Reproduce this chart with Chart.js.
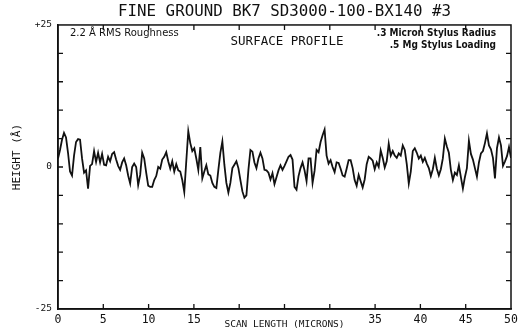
<!DOCTYPE html>
<html><head><meta charset="utf-8">
<script src="https://cdn.jsdelivr.net/npm/chart.js@4.4.1/dist/chart.umd.min.js"></script>
<style>html,body{margin:0;padding:0;background:#fff}#wrap{width:526px;height:334px}</style>
</head><body><div id="wrap"><canvas id="c" width="526" height="334"></canvas></div>
<script>
// ---- data ----
const chartTitle = 'FINE GROUND BK7 SD3000-100-BX140 #3';
const xAxisTitle = 'SCAN LENGTH (MICRONS)';
const yAxisTitle = 'HEIGHT (Å)';
const xTickLabels = [0, 5, 10, 15, 35, 40, 45, 50];
const yTickLabels = { '25': '+25', '0': '0', '-25': '-25' };
const noteRoughness = '2.2 Å RMS Roughness';
const noteProfile = 'SURFACE PROFILE';
const noteRadius = '.3 Micron Stylus Radius';
const noteLoading = '.5 Mg Stylus Loading';
const scanLength = 50;

// height profile (Å), left to right
const profileA = [1.5,3.0,4.8,6.0,5.2,2.5,-0.8,-1.5,2.0,4.4,4.9,4.8,1.5,-1.0,-0.6,-3.8,0.2,0.5,2.8,0.9,2.5,0.8,2.3,0.4,0.3,1.8,1.0,2.3,2.6,1.3,0.2,-0.5,0.8,1.5,0.3,-1.5,-2.9,0.0,0.6];
const profileB = [0.0,-3.2,-1.4,2.5,1.5,-1.0,-3.3,-3.5,-3.5,-2.3,-1.6,0.0,-0.3,1.3,1.8,2.6,1.0,-0.3,1.0,-0.8,0.5,-0.6,-0.8,-2.3,-4.4,1.0,6.3,4.2,2.8,3.3,1.5,-0.5,3.5,-2.0,-0.8,0.3,-1.3,-1.5,-2.8];
const profileC = [-3.5,-3.7,-0.5,2.5,4.5,0.4,-2.8,-4.5,-2.8,-0.2,0.4,1.0,-0.2,-2.3,-4.3,-5.4,-5.0,-0.5,3.0,2.7,0.8,-0.2,1.5,2.5,1.5,-0.5,-0.6,-1.0,-2.2,-1.1,-3.0,-1.8,-0.6,0.3,-0.5,0.2,1.0,1.8,2.1];
const profileD = [1.3,-3.5,-4.0,-1.6,-0.2,0.8,-0.6,-2.5,1.5,1.5,-2.8,-0.7,3.0,2.6,4.4,5.6,6.6,2.0,0.6,1.2,0.0,-0.9,0.8,0.7,-0.3,-1.5,-1.7,-0.3,1.2,1.2,-0.2,-2.3,-3.3,-1.4,-2.5,-3.6,-2.2,0.5,1.8];
const profileE = [1.5,1.1,-0.4,0.8,0.0,2.9,1.6,-0.1,1.0,4.1,2.0,2.8,2.0,1.6,2.4,2.0,3.8,3.0,0.5,-2.9,-0.8,2.8,3.3,2.5,1.5,2.0,0.9,1.6,0.6,-0.2,-1.6,-0.4,1.6,-0.3,-1.5,-0.4,1.5,5.0,3.6];
const profileF = [2.5,-0.5,-2.3,-1.0,-1.4,0.3,-1.8,-3.8,-1.8,-0.2,4.6,2.3,1.3,-0.2,-1.7,0.8,2.4,2.8,4.2,5.9,3.8,3.1,1.6,-2.0,3.3,5.2,3.8,0.2,1.0,1.9,3.5,1.6];

const heights = [].concat(profileA, profileB, profileC, profileD, profileE, profileF);
const points = heights.map((h, i) => ({ x: i * scanLength / (heights.length - 1), y: h }));

// ---- drawing ----
const INK = '#111';
const MONO = "'DejaVu Sans Mono', monospace";

const framePlugin = {
  id: 'frame',
  afterDraw(chart) {
    const { ctx, chartArea: a, scales } = chart;
    ctx.save();
    ctx.strokeStyle = INK;
    ctx.lineWidth = 1.5;
    ctx.strokeRect(a.left, a.top, a.right - a.left, a.bottom - a.top);
    ctx.lineWidth = 1.3;
    const tl = 5;
    scales.x.ticks.forEach(t => {
      if (t.value <= 0 || t.value >= 50) return;
      const px = scales.x.getPixelForValue(t.value);
      ctx.beginPath();
      ctx.moveTo(px, a.bottom); ctx.lineTo(px, a.bottom - tl);
      ctx.moveTo(px, a.top); ctx.lineTo(px, a.top + tl);
      ctx.stroke();
    });
    scales.y.ticks.forEach(t => {
      if (t.value <= -25 || t.value >= 25) return;
      const py = scales.y.getPixelForValue(t.value);
      ctx.beginPath();
      ctx.moveTo(a.left, py); ctx.lineTo(a.left + tl, py);
      ctx.moveTo(a.right, py); ctx.lineTo(a.right - tl, py);
      ctx.stroke();
    });
    ctx.fillStyle = INK;
    ctx.textBaseline = 'middle';
    ctx.font = "10px 'DejaVu Sans'";
    ctx.textAlign = 'left';
    ctx.fillText(noteRoughness, a.left + 12, a.top + 8);
    ctx.font = "12.5px " + MONO;
    ctx.textAlign = 'center';
    ctx.fillText(noteProfile, 287, a.top + 17);
    ctx.font = "bold 10px 'DejaVu Sans Condensed'";
    ctx.textAlign = 'right';
    ctx.fillText(noteRadius, a.right - 15, a.top + 8);
    ctx.fillText(noteLoading, a.right - 15, a.top + 20);
    ctx.restore();
  }
};

new Chart(document.getElementById('c'), {
  type: 'line',
  data: {
    datasets: [{
      data: points,
      borderColor: INK,
      borderWidth: 1.8,
      pointRadius: 0,
      tension: 0,
      fill: false
    }]
  },
  options: {
    responsive: false,
    animation: false,
    devicePixelRatio: 1,
    layout: { padding: { left: 0, right: 15, top: 0, bottom: 0 } },
    plugins: {
      legend: { display: false },
      tooltip: { enabled: false },
      title: {
        display: true,
        fullSize: false,
        text: chartTitle,
        color: INK,
        font: { family: MONO, size: 15.8, weight: 'normal' },
        padding: { top: 2.8, bottom: 3.2 }
      }
    },
    scales: {
      x: {
        type: 'linear',
        min: 0, max: scanLength,
        afterFit: s => { s.height = 25; },
        border: { display: true, color: INK, width: 1.5 },
        grid: { drawOnChartArea: false, drawTicks: false },
        ticks: {
          stepSize: 5, autoSkip: false, maxRotation: 0,
          color: INK, padding: 4,
          font: { family: MONO, size: 11.5 },
          callback: v => xTickLabels.includes(v) ? String(v) : ''
        },
        title: {
          display: true, text: xAxisTitle, color: INK,
          font: { family: MONO, size: 9.5 },
          padding: { top: 0, bottom: 3.3 }
        }
      },
      y: {
        min: -25, max: 25,
        afterFit: s => { s.width = 58; },
        border: { display: true, color: INK, width: 1.5 },
        grid: { drawOnChartArea: false, drawTicks: false },
        ticks: {
          stepSize: 5, autoSkip: false, color: INK, padding: 6,
          font: { family: MONO, size: 9.5 },
          callback: v => (yTickLabels[String(v)] !== undefined ? yTickLabels[String(v)] : '')
        },
        title: {
          display: true, text: '   ' + yAxisTitle, color: INK,
          font: { family: MONO, size: 11 },
          padding: { top: 10.4, bottom: 0 }
        }
      }
    }
  },
  plugins: [framePlugin]
});
</script></body></html>
